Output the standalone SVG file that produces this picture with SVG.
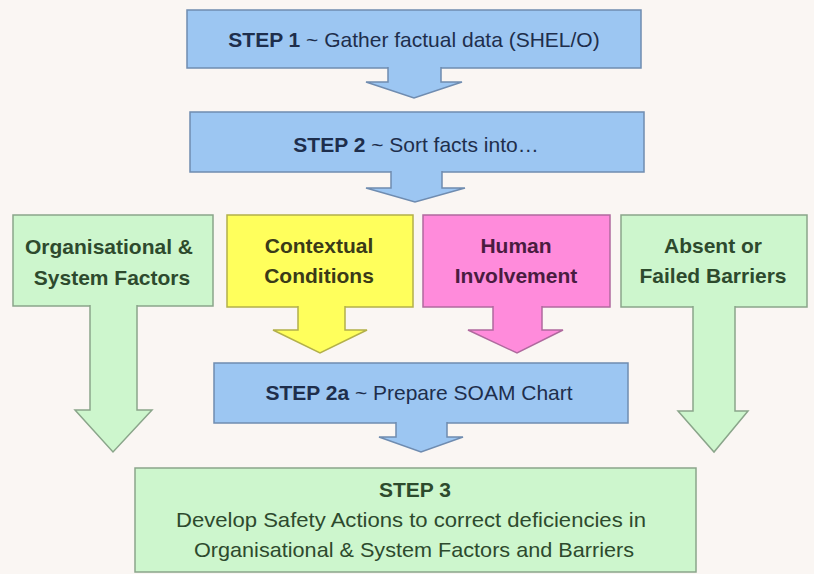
<svg xmlns="http://www.w3.org/2000/svg" width="814" height="574" viewBox="0 0 814 574">
<style>
  .t { font-family: "Liberation Sans", Arial, sans-serif; font-size: 21px; text-anchor: middle; }
  .b { font-weight: bold; }
  .blue { fill: #9CC6F2; stroke: #6F8CB0; stroke-width: 1.5; }
  .green { fill: #CDF6CD; stroke: #8AA58A; stroke-width: 1.5; }
  .yellow { fill: #FFFF5C; stroke: #B3B04A; stroke-width: 1.5; }
  .pink { fill: #FF8BDB; stroke: #B06A9E; stroke-width: 1.5; }
  .tb { fill: #1E2E4C; }
  .tg { fill: #2D4A2D; }
  .ty { fill: #3A3A18; }
  .tp { fill: #4A1C40; }
</style>
<rect x="0" y="0" width="814" height="574" fill="#FAF6F3"/>

<g id="step1">
  <rect class="blue" x="187" y="10" width="454" height="58"/>
  <text class="t tb" x="414" y="47"><tspan class="b">STEP 1</tspan> ~ Gather factual data (SHEL/O)</text>
</g>
<g id="step2">
  <rect class="blue" x="190" y="112" width="454" height="60"/>
  <text class="t tb" x="416" y="152"><tspan class="b">STEP 2</tspan> ~ Sort facts into…</text>
</g>
<g id="organisational">
  <rect class="green" x="13" y="215" width="200" height="91"/>
  <text class="t b tg" x="109" y="254">Organisational &amp;</text>
  <text class="t b tg" x="112" y="285">System Factors</text>
</g>
<g id="contextual">
  <rect class="yellow" x="227" y="215" width="186" height="92"/>
  <text class="t b ty" x="319" y="253">Contextual</text>
  <text class="t b ty" x="319" y="283">Conditions</text>
</g>
<g id="human">
  <rect class="pink" x="423" y="215" width="187" height="92"/>
  <text class="t b tp" x="516" y="253">Human</text>
  <text class="t b tp" x="516" y="283">Involvement</text>
</g>
<g id="barriers">
  <rect class="green" x="621" y="215" width="186" height="92"/>
  <text class="t b tg" x="713" y="253">Absent or</text>
  <text class="t b tg" x="713" y="283">Failed Barriers</text>
</g>
<g id="step2a">
  <rect class="blue" x="214" y="363" width="414" height="60"/>
  <text class="t tb" x="419" y="400"><tspan class="b">STEP 2a</tspan> ~ Prepare SOAM Chart</text>
</g>
<g id="step3">
  <rect class="green" x="135" y="468" width="561" height="104"/>
  <text class="t b tg" x="415" y="497">STEP 3</text>
  <text class="t tg" x="411" y="527" textLength="470" lengthAdjust="spacingAndGlyphs">Develop Safety Actions to correct deficiencies in</text>
  <text class="t tg" x="414" y="557" textLength="440" lengthAdjust="spacingAndGlyphs">Organisational &amp; System Factors and Barriers</text>
</g>

<g id="connectors">
  <path class="blue" d="M388,67 V82 H366 L414,98 L462,82 H441 V67"/>
  <path class="blue" d="M391,171 V188 H366 L415,202 L465,188 H442 V171"/>
  <path class="green" d="M90,305 V410 H75 L113,452 L152,410 H137 V305"/>
  <path class="yellow" d="M298,306 V330 H273 L320,353 L367,330 H345 V306"/>
  <path class="pink" d="M493,306 V330 H468 L517,353 L563,330 H542 V306"/>
  <path class="green" d="M693,306 V411 H678 L714,452 L748,411 H735 V306"/>
  <path class="blue" d="M396,422 V437 H379 L421,452 L463,437 H447 V422"/>
</g>
</svg>
